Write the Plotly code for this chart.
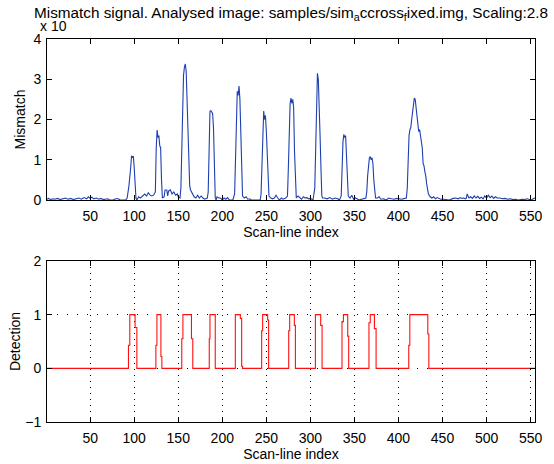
import plotly.graph_objects as go

# ---- Top: mismatch signal (units of 1e4), vertices ----
mis_x = [1, 3, 5, 8, 10, 13, 16, 19, 22, 25, 28, 31, 34, 37, 40, 43, 46, 48, 50, 52,
         54, 57, 60, 62, 65, 68, 70, 72, 76, 79, 82, 84, 90, 92, 94, 96, 97, 98, 99, 100,
         101, 102, 103, 105, 107, 110, 112, 114, 116, 118, 120, 122, 124, 125, 126, 127, 128, 129, 130, 131,
         132, 134, 135, 137, 138, 139, 141, 143, 145, 147, 149, 150, 152, 153, 154, 155, 156, 157, 158, 159,
         160, 161, 162, 163, 164, 166, 168, 170, 172, 174, 176, 178, 180, 183, 184, 185, 186, 187, 188, 189,
         190, 191, 192, 193, 194, 196, 198, 200, 202, 204, 206, 208, 212, 214, 215, 216, 217, 218, 219, 220,
         221, 222, 223, 225, 227, 229, 231, 233, 243, 244, 245, 246, 247, 248, 249, 250, 251, 252, 253, 255,
         257, 259, 261, 263, 265, 267, 269, 272, 274, 275, 276, 277, 278, 279, 280, 281, 282, 283, 284, 286,
         288, 290, 292, 294, 296, 298, 300, 303, 305, 306, 307, 308, 309, 310, 311, 312, 313, 314, 316, 319,
         322, 325, 328, 331, 333, 335, 336, 337, 338, 339, 340, 341, 342, 343, 345, 347, 349, 351, 353, 355,
         363, 364, 365, 366, 367, 368, 369, 370, 371, 372, 373, 374, 376, 378, 380, 383, 386, 389, 392, 395,
         398, 401, 404, 407, 409, 410, 411, 412, 413, 414, 415, 416, 417, 418, 419, 420, 421, 422, 423, 424,
         425, 426, 427, 428, 429, 430, 431, 432, 433, 434, 436, 438, 440, 442, 444, 446, 448, 451, 455, 458,
         462, 465, 468, 470, 472, 474, 476, 477, 478, 479, 480, 482, 484, 486, 488, 490, 492, 494, 496, 498,
         500, 502, 504, 506, 508, 510, 512, 515, 518, 521, 524, 527, 530, 533, 536, 540, 543, 546, 549, 551,
         553, 555]
mis_y = [0.02, 0.04, 0.01, 0.03, 0.02, 0.04, 0.01, 0.03, 0.05, 0.02, 0.04, 0.01, 0.03, 0.05, 0.02, 0.06, 0.03, 0.08, 0.04, 0.07,
         0.03, 0.05, 0.02, 0.04, 0.01, 0.02, 0.03, 0.0, 0.0, 0.03, 0.03, 0.0, 0.0, 0.05, 0.35, 0.8, 1.1, 1.05, 1.09, 0.8,
         0.3, 0.05, 0.0, 0.08, 0.05, 0.1, 0.15, 0.1, 0.18, 0.12, 0.1, 0.12, 0.2, 1.3, 1.74, 1.55, 1.6, 1.35, 1.3, 0.5,
         0.05, 0.08, 0.25, 0.25, 0.1, 0.22, 0.25, 0.15, 0.2, 0.12, 0.15, 0.08, 0.05, 0.3, 1.5, 2.5, 3.1, 3.3, 3.38, 3.2,
         2.5, 1.5, 0.6, 0.35, 0.25, 0.15, 0.08, 0.05, 0.12, 0.05, 0.1, 0.05, 0.02, 0.05, 0.2, 1.2, 2.2, 2.22, 2.18, 2.15,
         1.8, 0.8, 0.05, 0.0, 0.08, 0.05, 0.05, 0.0, 0.05, 0.02, 0.06, 0.0, 0.0, 0.15, 1.2, 2.4, 2.7, 2.6, 2.83, 2.5,
         1.5, 0.5, 0.1, 0.05, 0.08, 0.02, 0.03, 0.0, 0.0, 0.15, 0.8, 1.7, 2.21, 2.0, 2.1, 1.7, 1.0, 0.3, 0.1, 0.05,
         0.03, 0.05, 0.12, 0.05, 0.0, 0.05, 0.02, 0.05, 0.1, 0.8, 1.8, 2.4, 2.53, 2.4, 2.5, 2.3, 1.2, 0.3, 0.05, 0.1,
         0.05, 0.02, 0.08, 0.05, 0.06, 0.03, 0.04, 0.0, 0.3, 1.5, 2.7, 3.15, 3.0, 2.5, 1.6, 0.8, 0.1, 0.05, 0.05, 0.03,
         0.06, 0.02, 0.05, 0.03, 0.0, 0.1, 0.9, 1.45, 1.63, 1.55, 1.6, 1.2, 0.6, 0.1, 0.05, 0.12, 0.02, 0.05, 0.03, 0.0,
         0.05, 0.2, 0.6, 0.95, 1.05, 1.08, 1.0, 1.05, 0.9, 0.5, 0.2, 0.05, 0.05, 0.08, 0.02, 0.03, 0.0, 0.05, 0.03, 0.02,
         0.04, 0.03, 0.02, 0.04, 0.05, 0.3, 1.0, 1.6, 1.75, 1.8, 2.0, 2.2, 2.4, 2.53, 2.5, 2.3, 2.0, 1.9, 1.7, 1.75,
         1.6, 1.55, 1.3, 0.9, 0.85, 0.7, 0.6, 0.4, 0.25, 0.15, 0.08, 0.05, 0.08, 0.03, 0.06, 0.04, 0.02, 0.02, 0.0, 0.0,
         0.04, 0.05, 0.03, 0.06, 0.04, 0.05, 0.03, 0.04, 0.15, 0.1, 0.05, 0.08, 0.04, 0.1, 0.05, 0.09, 0.04, 0.07, 0.03, 0.1,
         0.05, 0.12, 0.06, 0.1, 0.04, 0.08, 0.05, 0.05, 0.03, 0.04, 0.02, 0.03, 0.01, 0.02, 0.0, 0.02, 0.01, 0.03, 0.02, 0.0,
         0.03, 0.05]

# ---- Bottom: detection signal, change points (step after) ----
det_x = [1, 93.5, 95, 101, 103, 124.6, 125.8, 130.3, 131.4, 154, 155.3, 165, 166.5,
         185.2, 186, 192, 214.8, 220.5, 222, 223, 244.7, 245.8, 251.5, 252.6,
         275.4, 276.5, 281.8, 283, 305.7, 311.7, 313.3, 335.9, 337.5, 342.4, 343.5,
         366.5, 368, 372.7, 374.6, 411.7, 412.9, 433.3, 434.5, 555]
det_y = [0, 0.43, 1, 0.76, 0, 0.43, 1, 0.22, 0, 0.55, 1, 0.55, 0,
         0.55, 1, 0, 1, 0.93, 0.04, 0, 0.7, 1, 0.9, 0,
         0.7, 1, 0.8, 0, 1, 0.8, 0, 0.87, 1, 0.6, 0,
         0.85, 1, 0.74, 0, 0.43, 1, 0.64, 0, 0]

x_ticks = [50, 100, 150, 200, 250, 300, 350, 400, 450, 500, 550]
top_yticks = [0, 1, 2, 3, 4]
bot_yticks = [-1, 0, 1, 2]

FONT = "Liberation Sans, Arial, sans-serif"
FS = 14

fig = go.Figure()
fig.add_trace(go.Scatter(x=mis_x, y=mis_y, mode="lines",
                         line=dict(color="#1f3fb0", width=1.1),
                         xaxis="x", yaxis="y", showlegend=False, hoverinfo="skip"))
fig.add_trace(go.Scatter(x=det_x, y=det_y, mode="lines", line_shape="hv",
                         line=dict(color="#ff1010", width=1.1),
                         xaxis="x2", yaxis="y2", showlegend=False, hoverinfo="skip"))

def ax(**kw):
    d = dict(showline=True, linecolor="black", linewidth=1, mirror="ticks",
             ticks="inside", ticklen=5, tickcolor="black", tickwidth=1,
             tickfont=dict(family=FONT, size=FS, color="black"),
             zeroline=False, showgrid=False, fixedrange=True, automargin=False)
    d.update(kw)
    return d

top_dom = [0.5796, 1.0]
bot_dom = [0.0, 0.4204]

fig.update_layout(
    width=554, height=464,
    margin=dict(l=47, r=19, t=39, b=42),
    paper_bgcolor="white", plot_bgcolor="white",
    font=dict(family=FONT, size=FS, color="black"),
    title=dict(text="Mismatch signal. Analysed image: samples/sim<sub>a</sub>ccross<sub>f</sub>ixed.img, Scaling:2.8",
               x=0.5, xref="paper", xanchor="center",
               y=1 - 12.5 / 464, yref="container", yanchor="middle",
               font=dict(family=FONT, size=15.3, color="black")),
    xaxis=ax(domain=[0, 1], range=[1, 555], tickvals=x_ticks, anchor="y", ticklabelstandoff=3,
             title=dict(text="Scan-line index", standoff=3, font=dict(size=FS))),
    yaxis=ax(domain=top_dom, range=[0, 4], tickvals=top_yticks, anchor="x", ticklabelstandoff=2,
             title=dict(text="Mismatch", standoff=4, font=dict(size=FS))),
    xaxis2=ax(domain=[0, 1], range=[1, 555], tickvals=x_ticks, anchor="y2", ticklabelstandoff=3,
              showgrid=True, gridcolor="black", gridwidth=1, griddash="1px,5px",
              title=dict(text="Scan-line index", standoff=3, font=dict(size=FS))),
    yaxis2=ax(domain=bot_dom, range=[-1, 2], tickvals=bot_yticks, anchor="x2", ticklabelstandoff=2,
              showgrid=True, gridcolor="black", gridwidth=1, griddash="1px,9px",
              title=dict(text="Detection", standoff=1, font=dict(size=FS))),
    annotations=[dict(text="x 10", xref="paper", yref="paper",
                      x=(38 - 47) / 488, y=(422 - 26) / 383,
                      xanchor="left", yanchor="middle", showarrow=False,
                      font=dict(family=FONT, size=FS, color="black"))],
)

fig.write_html("out.html", config={"displayModeBar": False},
               post_script="document.body.style.margin='0';document.body.style.padding='0';")
